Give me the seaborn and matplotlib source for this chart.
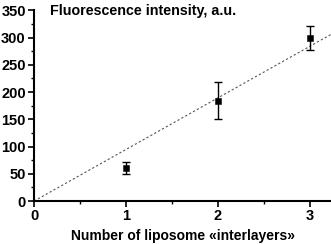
import matplotlib
matplotlib.use("Agg")
import matplotlib.pyplot as plt
import numpy as np
import pandas as pd
import seaborn as sns

# data
layers = [1, 2, 3]
intensity = [60, 184, 299]
err = [11, 34, 22]

sns.set_theme(style="ticks")
plt.rcParams["font.family"] = ["Liberation Sans", "DejaVu Sans"]
plt.rcParams["font.weight"] = "bold"
plt.rcParams["text.color"] = "black"
plt.rcParams["xtick.color"] = "black"
plt.rcParams["ytick.color"] = "black"
plt.rcParams["axes.edgecolor"] = "black"
plt.rcParams["axes.labelcolor"] = "black"

df = pd.DataFrame({"n": layers, "f": intensity, "e": err})

# fit through the origin
slope = (df["n"] * df["f"]).sum() / (df["n"] ** 2).sum()
fit_x = np.array([0, 3.25])

fig = plt.figure(figsize=(3.31, 2.44), dpi=100)
ax = fig.add_axes([0.103, 0.176, 0.897, 0.782])

sns.lineplot(x=fit_x, y=slope * fit_x, ax=ax, color="#555555",
             linestyle=(0, (2, 2)), linewidth=0.8)
ax.errorbar(df["n"], df["f"], yerr=df["e"], fmt="none", ecolor="black",
            elinewidth=1, capsize=3, capthick=1)
sns.scatterplot(data=df, x="n", y="f", ax=ax, marker="s", s=22,
                color="black", edgecolor="black", zorder=5)

ax.set_xlim(0, 3.23)
ax.set_ylim(0, 350)
ax.set_xticks([0, 1, 2, 3])
ax.set_xticks([0.5, 1.5, 2.5], minor=True)
ax.set_yticks(range(0, 351, 50))
ax.set_yticks(range(25, 350, 50), minor=True)
ax.tick_params(axis="both", which="major", labelsize=10.5, length=4,
               width=1.2, direction="out", pad=2, colors="black")
ax.tick_params(axis="both", which="minor", length=2.5, width=1.0,
               direction="out", colors="black")
for lbl in ax.get_xticklabels() + ax.get_yticklabels():
    lbl.set_fontweight("bold")

for s in ["top", "right"]:
    ax.spines[s].set_visible(False)
for s in ["left", "bottom"]:
    ax.spines[s].set_linewidth(1.5)
    ax.spines[s].set_color("black")

ax.set_xlabel("Number of liposome «interlayers»", fontsize=10,
              fontweight="bold", labelpad=4, color="black")
ax.set_ylabel("")
ax.text(0.054, 0.995, "Fluorescence intensity, a.u.", transform=ax.transAxes,
        fontsize=10.3, fontweight="bold", va="center", ha="left",
        color="black")

fig.savefig("out.png", dpi=100)
